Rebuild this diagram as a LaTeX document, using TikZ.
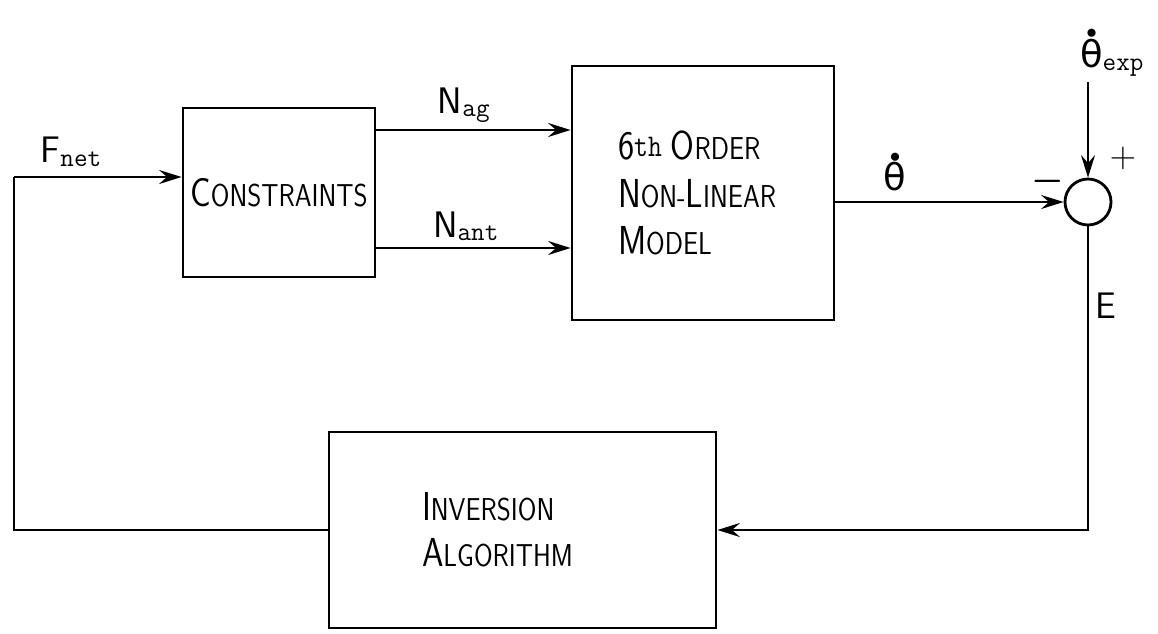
\documentclass[tikz,border=0pt]{standalone}
\usepackage{amsmath,amssymb}
\usepackage{fontspec}
\usepackage{graphicx}
\usetikzlibrary{arrows.meta, positioning}

\newfontfamily\grk{DejaVu Sans}
\newcommand{\bigsc}[2]{{\fontsize{23}{27}\selectfont #1}{\fontsize{18}{27}\selectfont #2}}
\newcommand{\cond}[1]{\scalebox{0.85}[1]{\sffamily #1}}
\newcommand{\sig}[2]{{\fontsize{21}{24}\selectfont\sffamily #1}\raisebox{-2pt}{\fontsize{15}{18}\selectfont\ttfamily #2}}
\newcommand{\thd}{\leavevmode\rlap{\raisebox{16pt}{\hspace{3.6pt}\fontsize{12}{12}\selectfont$\bullet$}}{\fontsize{21}{24}\selectfont\grk θ}}

\begin{document}
\begin{tikzpicture}[
    box/.style={rectangle, draw, line width=1.6pt, inner xsep=0pt},
    sumnode/.style={circle, draw, line width=1.6pt, minimum size=0.92cm, inner sep=0pt},
    arr/.style={-{Stealth[length=4.5mm, width=2.8mm, inset=1.6mm]}, line width=1.6pt},
    ln/.style={line width=1.6pt}
]
\useasboundingbox (0,0) rectangle (23.16,12.66);
\node[box, minimum width=3.84cm, minimum height=3.38cm] (cons) at (5.58,8.81) {\cond{\bigsc{C}{ONSTRAINTS}}};
\node[box, minimum width=5.24cm, minimum height=5.08cm, text width=3.4cm, align=left, font=\fontsize{18}{27}\selectfont] (model) at (14.06,8.80)
    {\cond{{\fontsize{23}{27}\selectfont 6}\raisebox{2pt}{\fontsize{18}{18}\selectfont\ttfamily th} \bigsc{O}{RDER}}\\
     \cond{\bigsc{N}{ON-}\bigsc{L}{INEAR}}\\
     \cond{\bigsc{M}{ODEL}}};
\node[box, minimum width=7.74cm, minimum height=3.92cm, text width=4.02cm, align=left, font=\fontsize{18}{26}\selectfont] (inv) at (10.45,2.06)
    {\cond{\bigsc{I}{NVERSION}}\\
     \cond{\bigsc{A}{LGORITHM}}};
\node[sumnode] (sum) at (21.76,8.62) {};

\coordinate (fb) at (0.28,9.12);
\coordinate (top) at (21.76,11.02);

% forward path
\draw[arr] (fb) -- node[above, pos=0.34, yshift=2pt] (lfnet) {\sig{F}{net}} (fb -| cons.west);
\draw[arr] ([yshift=1.25cm]cons.east) -- node[above, pos=0.45] (lnag) {\sig{N}{ag}} ([yshift=1.25cm]cons.east -| model.west);
\draw[arr] ([yshift=-1.11cm]cons.east) -- node[above, pos=0.46] (lnant) {\sig{N}{ant}} ([yshift=-1.11cm]cons.east -| model.west);
\draw[arr] (model.east |- sum.west) -- node[above, pos=0.26, yshift=2pt] (lthd) {\thd} (sum.west);

% reference input
\draw[arr] (top) -- (sum.north);
\node[anchor=south west, xshift=-0.2cm, yshift=2pt, inner sep=1pt] (lexp) at (top) {\thd\raisebox{-2pt}{\fontsize{15}{18}\selectfont\ttfamily exp}};
\node (lplus) at ([shift={(0.7,0.88)}]sum.center) {\fontsize{20}{22}\selectfont$+$};
\node (lminus) at ([shift={(-0.8,0.42)}]sum.center) {\fontsize{20}{22}\selectfont$\boldsymbol{-}$};

% feedback
\draw[arr] (sum.south) |- node[right, pos=0.13] (le) {\fontsize{21}{24}\selectfont\sffamily E} (inv.east);
\draw[ln] (inv.west) -| (fb);
\end{tikzpicture}
\end{document}
